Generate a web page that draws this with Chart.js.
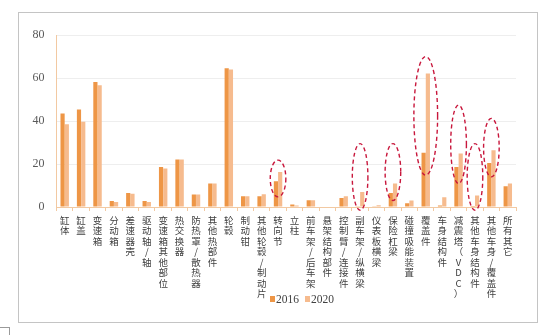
<!DOCTYPE html>
<html>
<head>
<meta charset="utf-8">
<script src="https://cdn.jsdelivr.net/npm/chart.js@4/dist/chart.umd.min.js"></script>
<style>
    html, body { margin: 0; padding: 0; background: #fff; }
    #page { position: relative; width: 548px; height: 335px; overflow: hidden; }
    #frame { position: absolute; left: 18px; top: 12px; width: 520px; height: 311px; border: 1px solid #c4c4c4; box-sizing: border-box; }
    #corner { position: absolute; left: -1px; top: 327px; width: 11px; height: 12px; border: 1px solid #9a9a9a; box-sizing: border-box; }
    #wrap { position: absolute; left: 0; top: 0; width: 548px; height: 335px; }
    #legend { position: absolute; left: 270px; top: 293px; display: flex; gap: 6px; font: 11.5px "Liberation Serif", serif; color: #404040; }
    #legend span.item { display: inline-flex; align-items: center; gap: 1px; }
    #legend span.box { display: inline-block; width: 5px; height: 6px; }
</style>
</head>
<body>
<div id="page">
    <div id="frame"></div>
    <div id="corner"></div>
    <div id="wrap"><canvas id="barChart"></canvas></div>
    <div id="legend"></div>
</div>
<script>
const categories = [
    "缸体", "缸盖", "变速箱", "分动箱", "差速器壳", "驱动轴/轴", "变速箱其他部位",
    "热交换器", "防热罩/散热器", "其他热部件", "轮毂", "制动钳", "其他轮毂/制动片",
    "转向节", "立柱", "前车架/后车架", "悬架结构部件", "控制臂/连接件", "副车架/纵横梁",
    "仪表板横梁", "保险杠梁", "碰撞吸能装置", "覆盖件", "车身结构件", "减震塔（VDC）",
    "其他车身结构件", "其他车身/覆盖件", "所有其它"
];
const years = ["2016", "2020"];
const values2016 = [43.5, 45.4, 58.1, 2.8, 6.5, 2.8, 18.6, 22.1, 5.8, 10.9, 64.5, 5, 5, 12, 1.2, 3.1, 0.2, 4.2, 0.4, 0.4, 6.5, 1.8, 25.2, 0.7, 18.6, 0.5, 20.5, 9.6];
const values2020 = [38.5, 39.6, 56.6, 2.3, 6.2, 2.3, 17.9, 22.1, 5.8, 10.9, 64, 5, 5.9, 16.3, 0.7, 3.1, 0.2, 5, 7, 0.8, 10.9, 3, 62.1, 4.5, 24.9, 5.4, 26.4, 10.9];

// circled categories: [category index, top value, bottom value]
const highlights = [
    [13, 21.8, 4.7],
    [18, 29.5, -1.5],
    [20, 29.5, 3],
    [22, 70, 14.8],
    [24, 47.4, 10.9],
    [25, 29.5, -1.5],
    [26, 41.2, 14]
];

const yTicks = [0, 20, 40, 60, 80];

const axisColor = "#f2c9a2";

// vertical labels: one character per line
const stacked = categories.map(c => c.split(""));

const ellipsePlugin = {
    id: "dashedRings",
    afterDatasetsDraw(chart) {
        const { ctx, scales: { x, y } } = chart;
        ctx.save();
        ctx.strokeStyle = "#c8173c";
        ctx.lineWidth = 1.4;
        ctx.setLineDash([4, 3]);
        highlights.forEach(([idx, top, bottom]) => {
            const cx = x.getPixelForValue(idx);
            const yt = y.getPixelForValue(top);
            const yb = y.getPixelForValue(bottom);
            const ry = (yb - yt) / 2;
            const rx = Math.max(7.8, ry * 0.2);
            ctx.beginPath();
            ctx.ellipse(cx, yt + ry, rx, ry, 0, 0, Math.PI * 2);
            ctx.stroke();
        });
        ctx.restore();
    }
};

const ctx = document.getElementById("barChart").getContext("2d");

window.barChart = new Chart(ctx, {
    type: "bar",
    data: {
        labels: stacked,
        datasets: [{
            label: years[0],
            data: values2016,
            backgroundColor: "#ee9646",
            borderWidth: 0,
            categoryPercentage: 0.52,
            barPercentage: 0.98
        }, {
            label: years[1],
            data: values2020,
            backgroundColor: "#f6bb8e",
            borderWidth: 0,
            categoryPercentage: 0.52,
            barPercentage: 0.98
        }]
    },
    options: {
        responsive: true,
        maintainAspectRatio: false,
        animation: false,
        layout: {
            padding: { top: 35, left: 0, right: 32, bottom: 0 }
        },
        plugins: {
            legend: { display: false },
            tooltip: { enabled: true }
        },
        scales: {
            x: {
                afterFit(scale) { scale.height = 128; },
                grid: {
                    display: true,
                    drawOnChartArea: false,
                    drawTicks: true,
                    tickLength: 4,
                    color: axisColor
                },
                border: { display: true, color: axisColor },
                ticks: {
                    autoSkip: false,
                    maxRotation: 0,
                    minRotation: 0,
                    padding: 4,
                    color: "#3f3f3f",
                    font: { family: "'Noto Sans CJK SC'", size: 9.5, lineHeight: 1.1 }
                }
            },
            y: {
                min: 0,
                max: 80,
                afterFit(scale) { scale.width = 56.5; },
                afterBuildTicks(scale) { scale.ticks = yTicks.map(v => ({ value: v })); },
                grid: { color: "#eeeeee", drawTicks: false },
                border: { display: true, color: axisColor },
                ticks: {
                    padding: 12,
                    color: "#595959",
                    font: { family: "'Liberation Serif'", size: 12 }
                }
            }
        }
    },
    plugins: [ellipsePlugin]
});

// legend sits among the axis labels, built from the datasets
const legend = document.getElementById("legend");
window.barChart.data.datasets.forEach(ds => {
    const item = document.createElement("span");
    item.className = "item";
    const box = document.createElement("span");
    box.className = "box";
    box.style.background = ds.backgroundColor;
    item.appendChild(box);
    item.appendChild(document.createTextNode(ds.label));
    legend.appendChild(item);
});
</script>
</body>
</html>
